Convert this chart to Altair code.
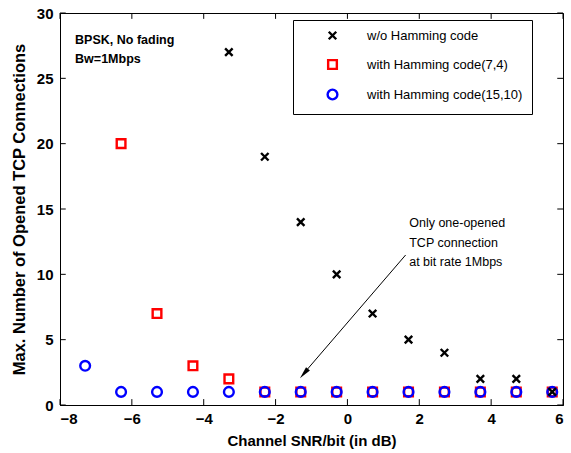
import altair as alt
import pandas as pd

# ---- data ----
snr = [-7.3, -6.3, -5.3, -4.3, -3.3, -2.3, -1.3, -0.3, 0.7, 1.7, 2.7, 3.7, 4.7, 5.7]
no_hamming = [27, 19, 14, 10, 7, 5, 4, 2, 2, 1]            # from snr[4:]
hamming_7_4 = [20, 7, 3, 2, 1, 1, 1, 1, 1, 1, 1, 1, 1]     # from snr[1:]
hamming_15_10 = [3, 1, 1, 1, 1, 1, 1, 1, 1, 1, 1, 1, 1, 1]  # all snr

series_names = ["w/o Hamming code", "with Hamming code(7,4)", "with Hamming code(15,10)"]
x_ticks = [-8, -6, -4, -2, 0, 2, 4, 6]
y_ticks = [0, 5, 10, 15, 20, 25, 30]

rows = []
for x, v in zip(snr[1:], hamming_7_4):
    rows.append({"snr": x, "val": v, "series": series_names[1]})
for x, v in zip(snr, hamming_15_10):
    rows.append({"snr": x, "val": v, "series": series_names[2]})
for x, v in zip(snr[4:], no_hamming):
    rows.append({"snr": x, "val": v, "series": series_names[0]})
df = pd.DataFrame(rows)
df["order"] = range(len(df))

FONT = "Liberation Sans"
XDOM = [-8, 6]
YDOM = [0, 30]
xs = alt.Scale(domain=XDOM, nice=False, zero=False)
ys = alt.Scale(domain=YDOM, nice=False, zero=False)

CROSS = "M-1,-1L1,1M1,-1L-1,1"
NBSP = "\u00a0" * 8

points = alt.Chart(df).mark_point(filled=False, strokeWidth=2.4, opacity=1).encode(
    x=alt.X("snr:Q", scale=xs, axis=alt.Axis(
        values=x_ticks, title="Channel SNR/bit  (in dB)", grid=False, tickSize=0,
        labelPadding=6, titlePadding=7)),
    y=alt.Y("val:Q", scale=ys, axis=alt.Axis(
        values=y_ticks, title="Max. Number of Opened TCP Connections", grid=False,
        tickSize=0, labelPadding=7, titlePadding=9, titleFontSize=16.5)),
    order="order:Q",
    color=alt.Color("series:N", scale=alt.Scale(domain=series_names,
                    range=["black", "#ff0000", "#0000ff"]),
                    legend=alt.Legend(title=None, orient="none", legendX=233, legendY=7,
                                      strokeColor="black", fillColor="white", padding=9,
                                      symbolOffset=24, labelOffset=28, rowPadding=10,
                                      labelFont=FONT, labelFontSize=13, labelColor="black",
                                      symbolStrokeWidth=2.4,
                                      labelExpr="datum.label + '" + NBSP + "'")),
    shape=alt.Shape("series:N", scale=alt.Scale(domain=series_names,
                    range=[CROSS, "square", "circle"])),
    size=alt.Size("series:N", scale=alt.Scale(domain=series_names, range=[56, 95, 90]),
                  legend=None),
)

# inward ticks (MATLAB style box)
xt = pd.DataFrame({"t": x_ticks})
yt = pd.DataFrame({"t": y_ticks})
bottom_ticks = alt.Chart(xt).mark_rule(color="black").encode(
    x="t:Q", y=alt.datum(0, scale=ys), y2=alt.datum(0.45))
top_ticks = alt.Chart(xt).mark_rule(color="black").encode(
    x="t:Q", y=alt.datum(30, scale=ys), y2=alt.datum(29.55))
left_ticks = alt.Chart(yt).mark_rule(color="black").encode(
    y="t:Q", x=alt.datum(-8, scale=xs), x2=alt.datum(-7.84))
right_ticks = alt.Chart(yt).mark_rule(color="black").encode(
    y="t:Q", x=alt.datum(6, scale=xs), x2=alt.datum(5.84))

# in-plot texts
info = pd.DataFrame({"x": [-7.58, -7.58], "y": [27.9, 26.5], "txt": ["BPSK, No fading", "Bw=1Mbps"]})
info_text = alt.Chart(info).mark_text(align="left", baseline="middle", font=FONT,
                                      fontWeight="bold", fontSize=12.5, color="black").encode(
    x="x:Q", y="y:Q", text="txt:N")

note = pd.DataFrame({"x": [1.72, 1.72, 1.72], "y": [13.93, 12.4, 10.94],
                     "txt": ["Only one-opened", "TCP connection", "at bit rate 1Mbps"]})
note_text = alt.Chart(note).mark_text(align="left", baseline="middle", font=FONT,
                                      fontSize=12.5, color="black").encode(
    x="x:Q", y="y:Q", text="txt:N")

arrow = pd.DataFrame({"x": [1.62], "y": [11.48], "x2": [-1.22], "y2": [2.4]})
arrow_line = alt.Chart(arrow).mark_rule(color="black", strokeWidth=1).encode(
    x="x:Q", y="y:Q", x2="x2:Q", y2="y2:Q")
head = pd.DataFrame({"x": [-1.21], "y": [2.41]})
arrow_head = alt.Chart(head).mark_point(shape="M0,-1L0.42,1L-0.42,1Z", filled=True,
                                        color="black", size=150, angle=221, opacity=1).encode(
    x="x:Q", y="y:Q")

chart = alt.layer(bottom_ticks, top_ticks, left_ticks, right_ticks, arrow_line, arrow_head,
                  points, info_text, note_text).properties(
    width=503, height=392,
    padding={"left": 60, "top": 13, "right": 8, "bottom": 48},
    autosize=alt.AutoSizeParams(type="none"),
    background="white",
).configure_view(stroke="black", strokeWidth=1).configure_axis(
    domainColor="black", labelFont=FONT, labelFontSize=15, labelFontWeight="bold",
    labelColor="black", titleFont=FONT, titleFontSize=15, titleFontWeight="bold",
    titleColor="black", domain=True,
)

chart.save("out.html", embed_options={"renderer": "svg", "actions": False})
